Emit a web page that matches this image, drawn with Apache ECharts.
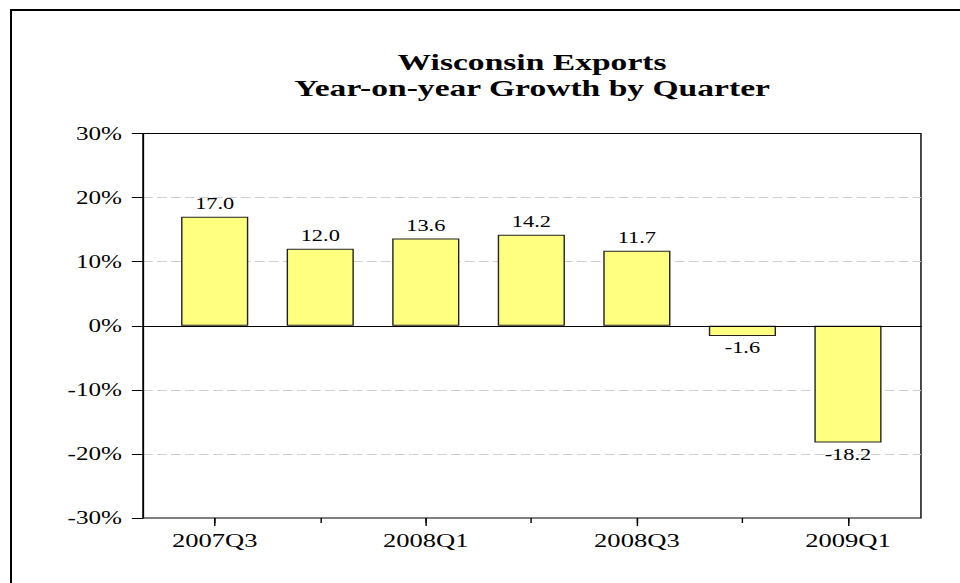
<!DOCTYPE html>
<html>
<head>
<meta charset="utf-8">
<script src="https://cdn.jsdelivr.net/npm/echarts@6/dist/echarts.min.js"></script>
<style>
  html, body { margin: 0; padding: 0; background: #fff; overflow: hidden; }
  #frame {
    position: absolute; left: 10px; top: 9px; right: -10px; bottom: -10px;
    border-left: 2px solid #000; border-top: 2px solid #000;
    z-index: 2; pointer-events: none;
  }
  /* the chart is laid out narrow and stretched horizontally */
  #chart {
    position: absolute; left: 0; top: 0; width: 686px; height: 583px;
    transform: scaleX(1.39942); transform-origin: 0 0; z-index: 1;
  }
</style>
</head>
<body>
<div id="chart"></div>
<div id="frame"></div>
<script>
// Quarterly year-on-year export growth, percent
const categories = ['2007Q3', '2007Q4', '2008Q1', '2008Q2', '2008Q3', '2008Q4', '2009Q1'];
const growth = [17.0, 12.0, 13.6, 14.2, 11.7, -1.6, -18.2];
const yMin = -30;
const yMax = 30;
const yStep = 10;

const FONT = 'Liberation Serif';

const chart = echarts.init(document.getElementById('chart'), null, {
  renderer: 'svg', width: 686, height: 583
});

const barData = growth.map(v => ({
  value: v,
  label: { position: v < 0 ? 'bottom' : 'top', distance: v < 0 ? 4 : 5 }
}));

chart.setOption({
  animation: false,
  backgroundColor: 'transparent',
  title: {
    text: 'Wisconsin Exports\nYear-on-year Growth by Quarter',
    left: 375.2,
    top: 44,
    textAlign: 'center',
    textStyle: {
      fontFamily: FONT, fontSize: 24, fontWeight: 'bold',
      lineHeight: 26, color: '#000'
    }
  },
  grid: [
    // framed plot area
    { left: 102.2, right: 27.9, top: 133.5, bottom: 65,
      show: true, borderColor: '#000', borderWidth: 1, backgroundColor: 'transparent' },
    // category band area for the bars
    { left: 115.7, right: 42.35, top: 133.5, bottom: 65 }
  ],
  xAxis: [
    {
      gridIndex: 0, type: 'value', min: 0, max: 1, z: 3,
      axisLine: { show: true, onZero: true, lineStyle: { color: '#000', width: 1 } },
      axisTick: { show: false }, axisLabel: { show: false }, splitLine: { show: false }
    },
    {
      gridIndex: 1, type: 'category', position: 'bottom', data: categories,
      axisLine: { show: false, onZero: false },
      axisTick: { show: true, alignWithLabel: true, interval: 1, length: 8,
                  lineStyle: { color: '#000', width: 1 } },
      axisLabel: { interval: 1, margin: 13, fontFamily: FONT, fontSize: 19, color: '#000' },
      splitLine: { show: false }
    },
    {
      gridIndex: 1, type: 'category', position: 'bottom', data: categories,
      axisLine: { show: false, onZero: false },
      axisTick: { show: true, alignWithLabel: true, interval: 0, length: 5,
                  lineStyle: { color: '#000', width: 1 } },
      axisLabel: { show: false },
      splitLine: { show: false }
    }
  ],
  yAxis: [
    {
      gridIndex: 0, type: 'value', min: yMin, max: yMax, interval: yStep,
      axisLine: { show: true, lineStyle: { color: '#000', width: 1 } },
      axisTick: { show: true, length: 8, lineStyle: { color: '#000', width: 1 } },
      axisLabel: {
        formatter: '{value}%', margin: 15, padding: [4, 0, 0, 0],
        fontFamily: FONT, fontSize: 18, color: '#000'
      },
      splitLine: {
        show: true, showMinLine: false, showMaxLine: false,
        lineStyle: { color: '#cfcfcf', width: 1, type: [7, 3] }
      }
    },
    {
      gridIndex: 1, type: 'value', min: yMin, max: yMax, interval: yStep, show: false
    }
  ],
  series: [
    {
      type: 'bar',
      xAxisIndex: 1,
      yAxisIndex: 1,
      data: barData,
      barWidth: 48,
      itemStyle: { color: '#ffff80', borderColor: '#222', borderWidth: 1 },
      label: {
        show: true,
        formatter: p => p.value.toFixed(1),
        fontFamily: FONT, fontSize: 16, color: '#000'
      }
    }
  ]
});
</script>
</body>
</html>
